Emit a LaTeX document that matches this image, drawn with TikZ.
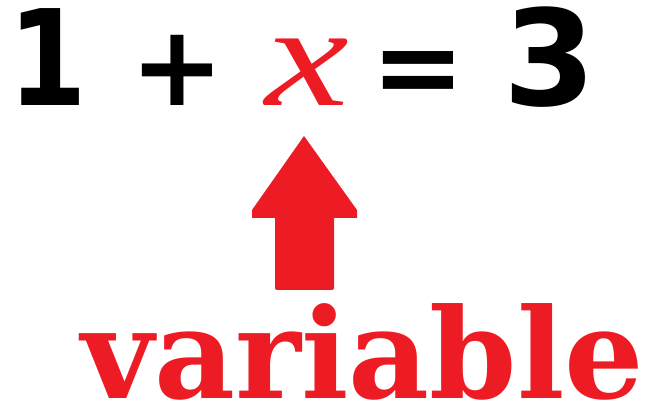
\documentclass[tikz,border=0pt]{standalone}
\usepackage{fontspec}
\setmainfont{DejaVu Sans}
\newfontfamily\slabfont{DejaVu Serif}
\newfontfamily\italfont{Liberation Serif}
\usetikzlibrary{positioning}
\definecolor{varred}{RGB}{237,28,36}

\begin{document}
\begin{tikzpicture}[x=1pt, y=-1pt,
  digit/.style={inner sep=0pt, anchor=base, font=\fontsize{133}{133}\selectfont\bfseries},
  opsym/.style={inner sep=0pt, anchor=base, font=\fontsize{112}{112}\selectfont\bfseries},
  varsym/.style={inner sep=0pt, anchor=base, text=varred, font=\fontsize{145}{145}\selectfont\italfont\itshape},
  tagtext/.style={inner sep=0pt, anchor=base, text=varred, font=\fontsize{125}{125}\selectfont\slabfont\bfseries}]
  \useasboundingbox (0,0) rectangle (645,403);
  % Equation along the top
  \node[digit] (one)   at (47.5,106) {\scalebox{0.85}[1]{1}};
  \node[opsym] (plus)  at (177.5,106) {+};
  \node[varsym] (xvar) at (307,106) {\scalebox{1.3}[1]{x}};
  \node[opsym] (eq)    at (418,106) {=};
  \node[digit] (three) at (550,106) {3};
  % Red label below
  \node[tagtext] (tag) at (363,398) {variable};
  % Block arrow pointing up at the unknown
  \fill[varred] (304,136) -- (357,210) -- (357,218) -- (334,218)
    [rounded corners=2pt] -- (334,290) -- (275,290) [sharp corners] -- (275,218)
    -- (252,218) -- (252,210) -- cycle;
\end{tikzpicture}
\end{document}
